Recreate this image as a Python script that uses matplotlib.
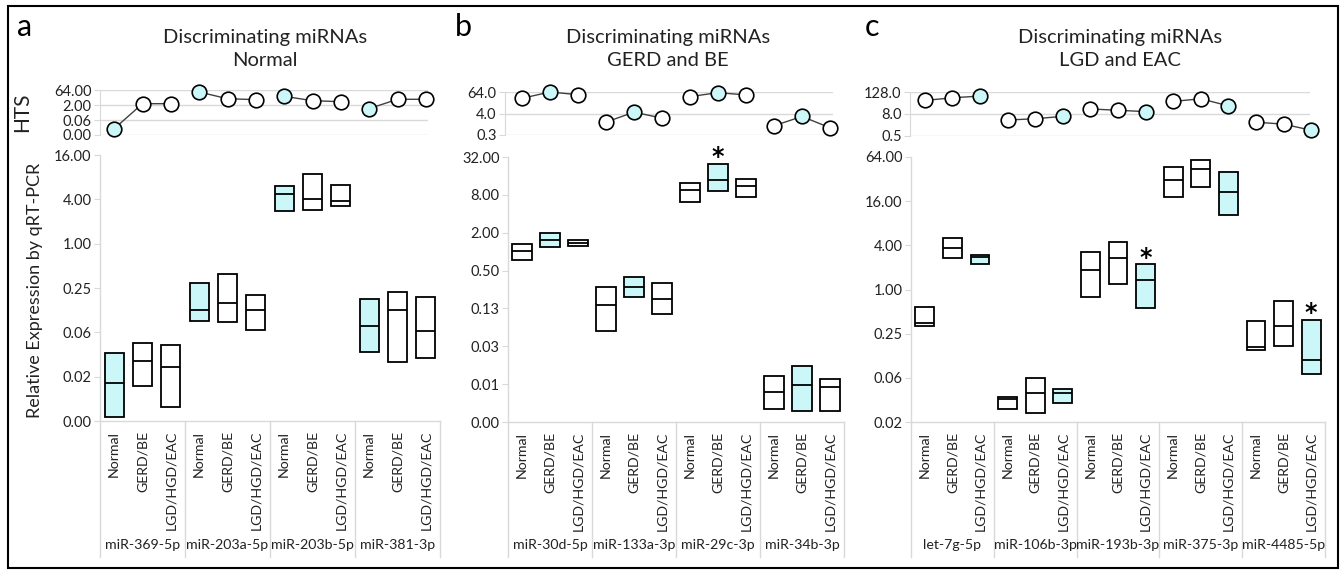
import matplotlib
matplotlib.use("Agg")
import matplotlib.pyplot as plt
from matplotlib.patches import Rectangle
import numpy as np

plt.rcParams['font.family'] = ['Lato', 'DejaVu Sans']

# ---------------- DATA ----------------
categories = ['Normal', 'GERD/BE', 'LGD/HGD/EAC']
panel_letters = ['a', 'b', 'c']
panel_titles = ['Discriminating miRNAs\nNormal',
                'Discriminating miRNAs\nGERD and BE',
                'Discriminating miRNAs\nLGD and EAC']
highlight_cat = [0, 1, 2]          # which category is shaded in each panel

# Panel a
mirnas_a = ['miR-369-5p', 'miR-203a-5p', 'miR-203b-5p', 'miR-381-3p']
hts_a = [[0.00837, 2.71, 2.71], [40.2, 8.57, 6.87], [14.9, 5.43, 4.29], [0.871, 7.46, 7.46]]
qtop_a = [[0.0328, 0.0448, 0.0421], [0.289, 0.387, 0.203], [6.02, 8.75, 6.32], [0.179, 0.218, 0.191]]
qmed_a = [[0.0128, 0.0257, 0.0209], [0.124, 0.156, 0.127], [4.79, 4.08, 3.78], [0.0770, 0.124, 0.0647]]
qbot_a = [[0.00440, 0.01176, 0.00605], [0.0884, 0.0866, 0.0674], [2.81, 2.83, 3.25], [0.0335, 0.0245, 0.0280]]
stars_a = []

# Panel b
mirnas_b = ['miR-30d-5p', 'miR-133a-3p', 'miR-29c-3p', 'miR-34b-3p']
hts_b = [[28.4, 64.0, 45.3], [1.32, 4.76, 2.2], [35.3, 58.9, 43.7], [0.824, 2.73, 0.637]]
qtop_b = [[1.32, 1.97, 1.53], [0.27, 0.398, 0.323], [12.3, 24.9, 14.4], [0.0104, 0.0150, 0.00942]]
qmed_b = [[1.04, 1.526, 1.385], [0.142, 0.27, 0.178], [9.51, 13.9, 10.9], [0.00592, 0.00765, 0.00709]]
qbot_b = [[0.743, 1.165, 1.24], [0.0544, 0.189, 0.103], [6.1, 9.25, 7.41], [0.00311, 0.00288, 0.00288]]
stars_b = [(2, 1)]

# Panel c
mirnas_c = ['let-7g-5p', 'miR-106b-3p', 'miR-193b-3p', 'miR-375-3p', 'miR-4485-5p']
hts_c = [[44.0, 61.8, 76.6], [3.73, 4.41, 5.94], [15.1, 12.8, 10.8], [38.9, 54.6, 22.3], [2.87, 2.22, 1.035]]
qtop_c = [[0.586, 4.99, 2.97], [0.034, 0.0623, 0.0445], [3.2, 4.47, 2.22], [46.2, 58.1, 39.9], [0.368, 0.693, 0.387]]
qmed_c = [[0.354, 3.66, 2.77], [0.0324, 0.0393, 0.0385], [1.828, 2.73, 1.338], [30.7, 43.7, 21.6], [0.162, 0.321, 0.111]]
qbot_c = [[0.319, 2.71, 2.22], [0.0234, 0.021, 0.0288], [0.801, 1.181, 0.563], [18.5, 24.8, 10.3], [0.152, 0.171, 0.0698]]
stars_c = [(2, 2), (4, 2)]

# axis ticks
hts_ticks = [[64, 2, 0.0625, 0.001953125], [64, 4, 0.25], [128, 8, 0.5]]
hts_ticklabels = [['64.00', '2.00', '0.06', '0.00'], ['64.0', '4.0', '0.3'], ['128.0', '8.0', '0.5']]
q_ticks = [[16, 4, 1, 0.25, 0.0625, 0.015625, 0.00390625],
           [32, 8, 2, 0.5, 0.125, 0.03125, 0.0078125, 0.001953125],
           [64, 16, 4, 1, 0.25, 0.0625, 0.015625]]
q_ticklabels = [['16.00', '4.00', '1.00', '0.25', '0.06', '0.02', '0.00'],
                ['32.00', '8.00', '2.00', '0.50', '0.13', '0.03', '0.01', '0.00'],
                ['64.00', '16.00', '4.00', '1.00', '0.25', '0.06', '0.02']]

panels = [
    dict(mirnas=mirnas_a, hts=hts_a, top=qtop_a, med=qmed_a, bot=qbot_a, stars=stars_a),
    dict(mirnas=mirnas_b, hts=hts_b, top=qtop_b, med=qmed_b, bot=qbot_b, stars=stars_b),
    dict(mirnas=mirnas_c, hts=hts_c, top=qtop_c, med=qmed_c, bot=qbot_c, stars=stars_c),
]

# ---------------- LAYOUT (pixels) ----------------
W, H = 1343, 572
# (hts x0, x1, y_top, y_bot), (q x0, x1, y_top, y_bot), title x, letter x
layout = [
    ((100, 428, 90, 135), (100, 440, 155, 421), 265, 25),
    ((505, 833, 92, 135), (508, 844, 157, 422), 668, 463),
    ((910, 1310, 92, 136), (911, 1325, 157, 422), 1120, 872),
]

CYAN = '#CCF7F9'
GRID = '#D9D9D9'
TXT = '#222222'
TICKFS = 10.5
CATFS = 10.2

fig = plt.figure(figsize=(W / 100, H / 100), dpi=100)


def add_ax(x0, x1, yt, yb):
    return fig.add_axes([x0 / W, 1 - yb / H, (x1 - x0) / W, (yb - yt) / H])


for p, (pdata, (hl, ql, tx, lx)) in enumerate(zip(panels, layout)):
    mirnas = pdata['mirnas']
    ng = len(mirnas)
    nslot = ng * 3
    hi = highlight_cat[p]
    qx0, qx1, qyt, qyb = ql
    slot_w = (qx1 - qx0) / nslot

    # ---- qRT-PCR box axes ----
    ax = add_ax(qx0, qx1, qyt, qyb)
    ax.set_yscale('log', base=2)
    ax.set_ylim(q_ticks[p][-1], q_ticks[p][0])
    ax.set_xlim(0, nslot)
    for g in range(ng):
        for c in range(3):
            x = g * 3 + c + 0.5
            t, m, b = pdata['top'][g][c], pdata['med'][g][c], pdata['bot'][g][c]
            ax.bar(x, t - b, bottom=b, width=0.68,
                   color=CYAN if c == hi else 'white', edgecolor='black', linewidth=1.3, zorder=3)
            ax.hlines(m, x - 0.34, x + 0.34, color='black', linewidth=1.3, zorder=4)
    for (g, c) in pdata['stars']:
        x = g * 3 + c + 0.5
        ax.annotate('*', (x, pdata['top'][g][c]), xytext=(0, -4), textcoords='offset points',
                    ha='center', va='bottom', fontsize=17, fontweight='bold', color='black',
                    family='DejaVu Sans')
    ax.set_yticks(q_ticks[p])
    ax.set_yticklabels(q_ticklabels[p])
    ax.yaxis.set_minor_locator(matplotlib.ticker.NullLocator())
    ax.tick_params(axis='y', length=4, color=GRID, labelsize=TICKFS, labelcolor=TXT, pad=2)
    ax.set_xticks([i + 0.5 for i in range(nslot)])
    ax.set_xticklabels(categories * ng, rotation=90, fontsize=CATFS, color=TXT)
    ax.tick_params(axis='x', length=0, pad=7)
    for s in ['top', 'right']:
        ax.spines[s].set_visible(False)
    for s in ['left', 'bottom']:
        ax.spines[s].set_color(GRID)
        ax.spines[s].set_linewidth(1.0)
    ah = qyb - qyt
    sep_len = (557 - qyb) / ah
    for g in range(ng + 1):
        ax.plot([g * 3, g * 3], [0, -sep_len], transform=ax.get_xaxis_transform(),
                color=GRID, lw=1.0, clip_on=False)
    for g in range(ng):
        ax.text(g * 3 + 1.5, -(545 - qyb) / ah, mirnas[g], transform=ax.get_xaxis_transform(),
                ha='center', va='center', fontsize=CATFS, color=TXT)

    # ---- HTS axes ----
    hx0, hx1, hyt, hyb = hl
    axh = add_ax(hx0, hx1, hyt, hyb)
    axh.set_yscale('log', base=2)
    axh.set_ylim(hts_ticks[p][-1], hts_ticks[p][0])
    axh.set_xlim((hx0 - qx0) / slot_w, (hx1 - qx0) / slot_w)
    for g in range(ng):
        xs = [g * 3 + c + 0.5 for c in range(3)]
        ys = pdata['hts'][g]
        axh.plot(xs, ys, color='#404040', lw=1.0, zorder=3, clip_on=False)
        for c in range(3):
            axh.plot(xs[c], ys[c], 'o', ms=10.5, mfc=CYAN if c == hi else 'white',
                     mec='black', mew=1.2, zorder=4, clip_on=False)
    axh.set_yticks(hts_ticks[p])
    axh.set_yticklabels(hts_ticklabels[p])
    axh.yaxis.set_minor_locator(matplotlib.ticker.NullLocator())
    axh.tick_params(axis='y', length=4, color=GRID, labelsize=TICKFS, labelcolor=TXT, pad=2)
    axh.set_xticks([])
    axh.grid(axis='y', color=GRID, lw=1.0, zorder=0)
    for s in ['top', 'right', 'bottom']:
        axh.spines[s].set_visible(False)
    axh.spines['left'].set_color(GRID)

    # titles and letters
    t1, t2 = panel_titles[p].split('\n')
    fig.text(tx / W, 1 - 38 / H, t1, ha='center', va='center', fontsize=14.5, color=TXT)
    fig.text(tx / W, 1 - 61 / H, t2, ha='center', va='center', fontsize=14.5, color=TXT)
    fig.text(lx / W, 1 - 27 / H, panel_letters[p], ha='center', va='center', fontsize=22, color='black')

    if p == 0:
        fig.text(22 / W, 1 - 112 / H, 'HTS', rotation=90, ha='center', va='center', fontsize=15, color=TXT)
        fig.text(35 / W, 1 - 290 / H, 'Relative Expression by qRT-PCR', rotation=90,
                 ha='center', va='center', fontsize=13, color=TXT)

fig.add_artist(Rectangle((8 / W, 1 - 568 / H), (1338 - 8) / W, (568 - 6) / H,
                         transform=fig.transFigure, fill=False, ec='black', lw=1.5))

fig.savefig('out.png', dpi=100)
